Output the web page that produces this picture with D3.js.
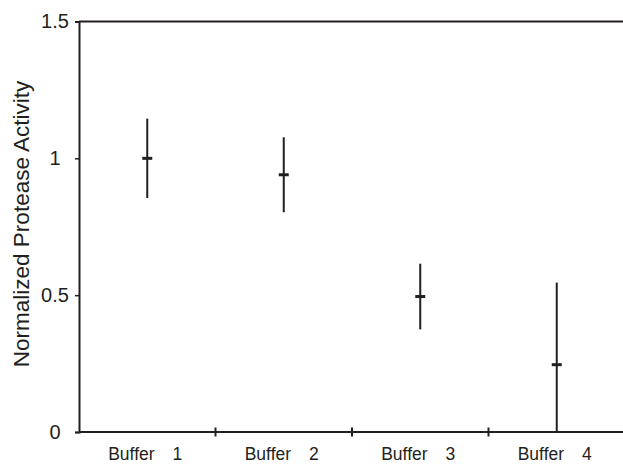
<!DOCTYPE html>
<html>
<head>
<meta charset="utf-8">
<script src="https://cdn.jsdelivr.net/npm/d3@7"></script>
<style>
  body { margin: 0; background: #fff; }
  text { font-family: "Liberation Sans", Arial, sans-serif; fill: #231f20; }
</style>
</head>
<body>
<svg id="chart" width="623" height="465"></svg>
<script>
// values
var buffers = ["1", "2", "3", "4"];
var means = [1.0, 0.94, 0.495, 0.246];
var errs = [0.145, 0.137, 0.12, 0.30];
var yTicks = [0, 0.5, 1, 1.5];

var ink = "#231f20";
var svg = d3.select("#chart");

var x = d3.scaleBand().domain(buffers).range([79, 625]).padding(0);
var y = d3.scaleLinear().domain([0, 1.5]).range([432, 21.5]);

// top frame line
svg.append("line")
    .attr("x1", 79).attr("x2", 623)
    .attr("y1", y(1.5)).attr("y2", y(1.5))
    .attr("stroke", ink).attr("stroke-width", 2);

// y axis
var yAxis = svg.append("g").attr("transform", "translate(79,0)")
    .call(d3.axisLeft(y).tickValues(yTicks).tickSize(4).tickFormat(d3.format("")));
yAxis.select(".domain").attr("stroke", ink).attr("stroke-width", 2);
yAxis.selectAll(".tick line").attr("stroke", ink).attr("stroke-width", 1.5);
yAxis.selectAll(".tick text")
    .attr("x", -24).attr("text-anchor", "middle")
    .style("font-size", "20px").attr("fill", ink);

// x axis, ticks on band boundaries
svg.append("line")
    .attr("x1", 79).attr("x2", 623)
    .attr("y1", y(0)).attr("y2", y(0))
    .attr("stroke", ink).attr("stroke-width", 2);
svg.selectAll(".xtick").data(buffers.slice(1)).enter()
    .append("line").attr("class", "xtick")
    .attr("x1", function(d){ return x(d); }).attr("x2", function(d){ return x(d); })
    .attr("y1", y(0) - 4.5).attr("y2", y(0) + 4.5)
    .attr("stroke", ink).attr("stroke-width", 2);

var lbl = svg.selectAll(".xlab").data(buffers).enter()
    .append("text").attr("class", "xlab")
    .attr("x", function(d){ return x(d) + x.bandwidth() / 2 - 2; })
    .attr("y", 460)
    .attr("text-anchor", "middle")
    .style("font-size", "17.5px");
lbl.append("tspan").text("Buffer");
lbl.append("tspan").attr("dx", 18).text(function(d){ return d; });

// y axis title
svg.append("text")
    .attr("transform", "translate(29,224) rotate(-90)")
    .attr("text-anchor", "middle")
    .style("font-size", "22.5px")
    .text("Normalized Protease Activity");

// error bars
var pts = buffers.map(function(b, i){ return { b: b, m: means[i], e: errs[i] }; });
var g = svg.append("g");
g.selectAll(".eb").data(pts).enter()
    .append("line").attr("class", "eb")
    .attr("x1", function(d){ return x(d.b) + x.bandwidth() / 2; })
    .attr("x2", function(d){ return x(d.b) + x.bandwidth() / 2; })
    .attr("y1", function(d){ return y(Math.min(1.5, d.m + d.e)); })
    .attr("y2", function(d){ return y(Math.max(0, d.m - d.e)); })
    .attr("stroke", ink).attr("stroke-width", 2);
g.selectAll(".mk").data(pts).enter()
    .append("line").attr("class", "mk")
    .attr("x1", function(d){ return x(d.b) + x.bandwidth() / 2 - 5; })
    .attr("x2", function(d){ return x(d.b) + x.bandwidth() / 2 + 5; })
    .attr("y1", function(d){ return y(d.m); })
    .attr("y2", function(d){ return y(d.m); })
    .attr("stroke", ink).attr("stroke-width", 3);
</script>
</body>
</html>
